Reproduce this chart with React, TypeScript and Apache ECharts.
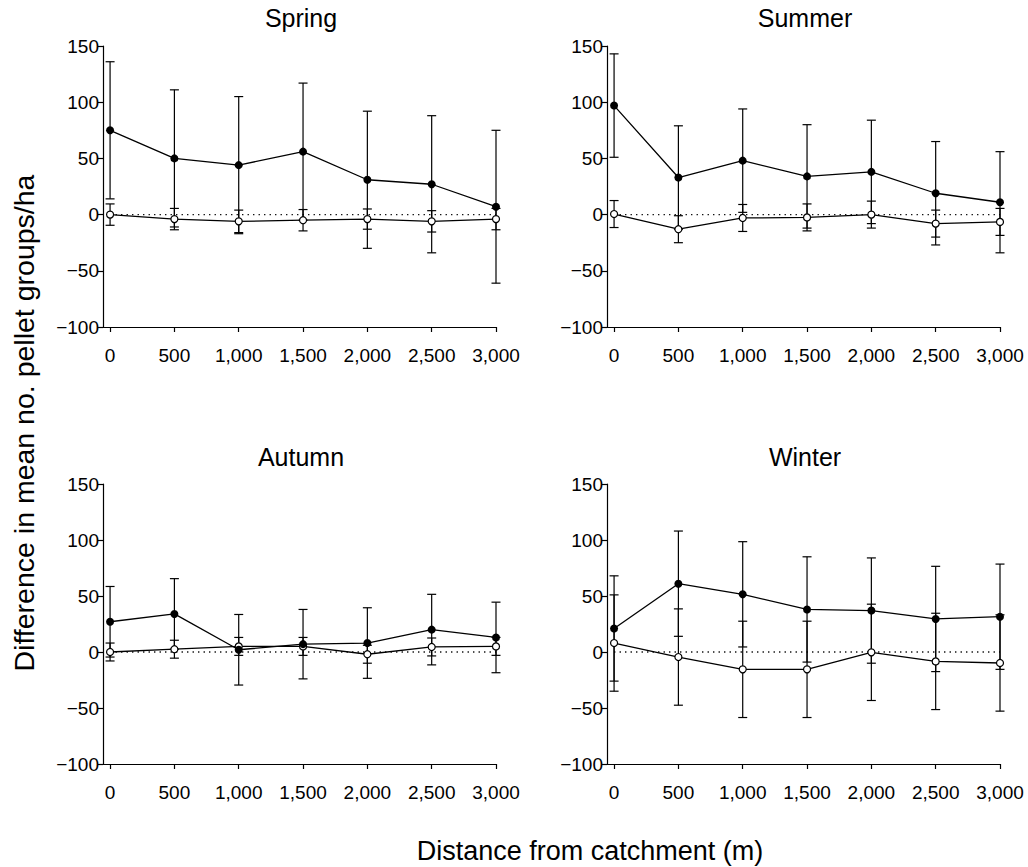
import React, { useEffect, useRef } from "react";
import * as echarts from "echarts";

// ---- data ----
const distances = [0, 500, 1000, 1500, 2000, 2500, 3000];
const panelTitles = ["Spring", "Summer", "Autumn", "Winter"];

const springFilled = [75, 50, 44, 56, 31, 27, 7];
const springFilledErr = [61, 61, 61, 61, 61, 61, 68];
const springOpen = [0, -4, -6, -5, -4, -6, -4];
const springOpenErr = [9.5, 9.5, 10, 9.5, 9, 9.5, 9.5];

const summerFilled = [97, 33, 48, 34, 38, 19, 11];
const summerFilledErr = [46, 46, 46, 46, 46, 46, 45];
const summerOpen = [0.5, -13, -3, -2.5, 0, -8, -6.5];
const summerOpenErr = [12, 12, 12, 12, 12, 12, 12];

const autumnFilled = [27, 34, 2, 7, 8, 20, 13];
const autumnFilledErr = [31.5, 31.5, 31.5, 31, 31.5, 31.5, 31.5];
const autumnOpen = [0, 2.5, 5, 5, -2, 4.5, 5];
const autumnOpenErr = [8, 8, 8, 8, 8, 8, 8];

const winterFilled = [21, 61, 51.5, 38, 37, 29.5, 31.5];
const winterFilledErr = [47, 47, 47, 47, 47, 47, 47];
const winterOpen = [8, -4.5, -15.5, -15.5, -0.3, -8.4, -9.8];
const winterOpenErr = [43, 43, 43, 43, 43, 43, 43];

const filledSets = [springFilled, summerFilled, autumnFilled, winterFilled];
const filledErrSets = [springFilledErr, summerFilledErr, autumnFilledErr, winterFilledErr];
const openSets = [springOpen, summerOpen, autumnOpen, winterOpen];
const openErrSets = [springOpenErr, summerOpenErr, autumnOpenErr, winterOpenErr];

const yMin = -100;
const yMax = 150;
const yInterval = 50;
const xMin = -55;
const xMax = 3000;

// ---- layout ----
const FONT = '"Liberation Sans", Arial, Helvetica, sans-serif';
const gridLayout = [
  { left: 103, top: 46, width: 393, height: 281 },
  { left: 607, top: 46, width: 393, height: 281 },
  { left: 103, top: 484, width: 393, height: 280 },
  { left: 607, top: 484, width: 393, height: 280 },
];
const titlePos = [
  [301, 18],
  [805, 18],
  [301, 457],
  [805, 457],
];

const errRender = (params: any, api: any) => {
  const x = api.value(0);
  const y = api.value(1);
  const e = api.value(2);
  const p1 = api.coord([x, y + e]);
  const p2 = api.coord([x, y - e]);
  const w = 4.5;
  const style = { stroke: "#000", lineWidth: 1.2 };
  return {
    type: "group",
    children: [
      { type: "line", shape: { x1: p1[0], y1: p1[1], x2: p2[0], y2: p2[1] }, style },
      { type: "line", shape: { x1: p1[0] - w, y1: p1[1], x2: p1[0] + w, y2: p1[1] }, style },
      { type: "line", shape: { x1: p2[0] - w, y1: p2[1], x2: p2[0] + w, y2: p2[1] }, style },
    ],
  };
};

function buildOption() {
  const grid = gridLayout.map((g) => ({ ...g, containLabel: false }));
  const xAxis = gridLayout.map((_, i) => ({
    type: "value",
    gridIndex: i,
    min: xMin,
    max: xMax,
    axisLine: { show: true, onZero: false, lineStyle: { color: "#000", width: 1.2 } },
    axisTick: { show: true, length: 5, customValues: distances, lineStyle: { color: "#000", width: 1.2 } },
    axisLabel: {
      show: true,
      customValues: distances,
      color: "#000",
      fontSize: 19,
      fontFamily: FONT,
      margin: 19,
      formatter: (v: number) => v.toLocaleString("en-US"),
    },
    splitLine: { show: false },
  }));
  const yAxis = gridLayout.map((_, i) => ({
    type: "value",
    gridIndex: i,
    min: yMin,
    max: yMax,
    interval: yInterval,
    axisLine: { show: true, onZero: false, lineStyle: { color: "#000", width: 1.2 } },
    axisTick: { show: true, length: 5, lineStyle: { color: "#000", width: 1.2 } },
    axisLabel: {
      color: "#000",
      fontSize: 19,
      fontFamily: FONT,
      margin: 4,
      formatter: (v: number) => String(v).replace("-", "\u2212"),
    },
    splitLine: { show: false },
  }));

  const series: any[] = [];
  gridLayout.forEach((_, i) => {
    // zero reference line (dotted)
    series.push({
      type: "line",
      xAxisIndex: i,
      yAxisIndex: i,
      data: [
        [distances[0], 0],
        [distances[distances.length - 1], 0],
      ],
      symbol: "none",
      lineStyle: { color: "#000", width: 1.3, type: [1.3, 4.2] },
      silent: true,
    });
    series.push({
      type: "custom",
      xAxisIndex: i,
      yAxisIndex: i,
      renderItem: errRender,
      encode: { x: 0, y: 1 },
      data: distances.map((d, k) => [d, filledSets[i][k], filledErrSets[i][k]]),
    });
    series.push({
      type: "custom",
      xAxisIndex: i,
      yAxisIndex: i,
      renderItem: errRender,
      encode: { x: 0, y: 1 },
      data: distances.map((d, k) => [d, openSets[i][k], openErrSets[i][k]]),
    });
  });
  gridLayout.forEach((_, i) => {
    series.push({
      type: "line",
      xAxisIndex: i,
      yAxisIndex: i,
      data: distances.map((d, k) => [d, openSets[i][k]]),
      symbol: "circle",
      symbolSize: 7,
      showAllSymbol: true,
      lineStyle: { color: "#000", width: 1.3 },
      itemStyle: { color: "#fff", borderColor: "#000", borderWidth: 1.2 },
    });
    series.push({
      type: "line",
      xAxisIndex: i,
      yAxisIndex: i,
      data: distances.map((d, k) => [d, filledSets[i][k]]),
      symbol: "circle",
      symbolSize: 8,
      showAllSymbol: true,
      lineStyle: { color: "#000", width: 1.3 },
      itemStyle: { color: "#000", borderColor: "#000", borderWidth: 0 },
    });
  });

  const graphic: any[] = panelTitles.map((t, i) => ({
    type: "text",
    x: titlePos[i][0],
    y: titlePos[i][1],
    style: {
      text: t,
      fontSize: 25,
      fontFamily: FONT,
      fill: "#000",
      align: "center",
      verticalAlign: "middle",
    },
  }));
  graphic.push({
    type: "text",
    x: 24,
    y: 423,
    rotation: Math.PI / 2,
    style: {
      text: "Difference in mean no. pellet groups/ha",
      fontSize: 28.5,
      fontFamily: FONT,
      fill: "#000",
      align: "center",
      verticalAlign: "middle",
    },
  });
  graphic.push({
    type: "text",
    x: 590,
    y: 851,
    style: {
      text: "Distance from catchment (m)",
      fontSize: 27,
      fontFamily: FONT,
      fill: "#000",
      align: "center",
      verticalAlign: "middle",
    },
  });

  return {
    animation: false,
    backgroundColor: "#fff",
    textStyle: { fontFamily: FONT },
    grid,
    xAxis,
    yAxis,
    series,
    graphic,
  };
}

export default function App() {
  const ref = useRef<HTMLDivElement>(null);
  useEffect(() => {
    if (!ref.current) return;
    const chart = echarts.init(ref.current, null, { renderer: "svg" });
    chart.setOption(buildOption() as any);
    return () => chart.dispose();
  }, []);
  return (
    <div
      ref={ref}
      style={{ position: "absolute", left: 0, top: 0, width: 1028, height: 867, background: "#fff" }}
    />
  );
}
